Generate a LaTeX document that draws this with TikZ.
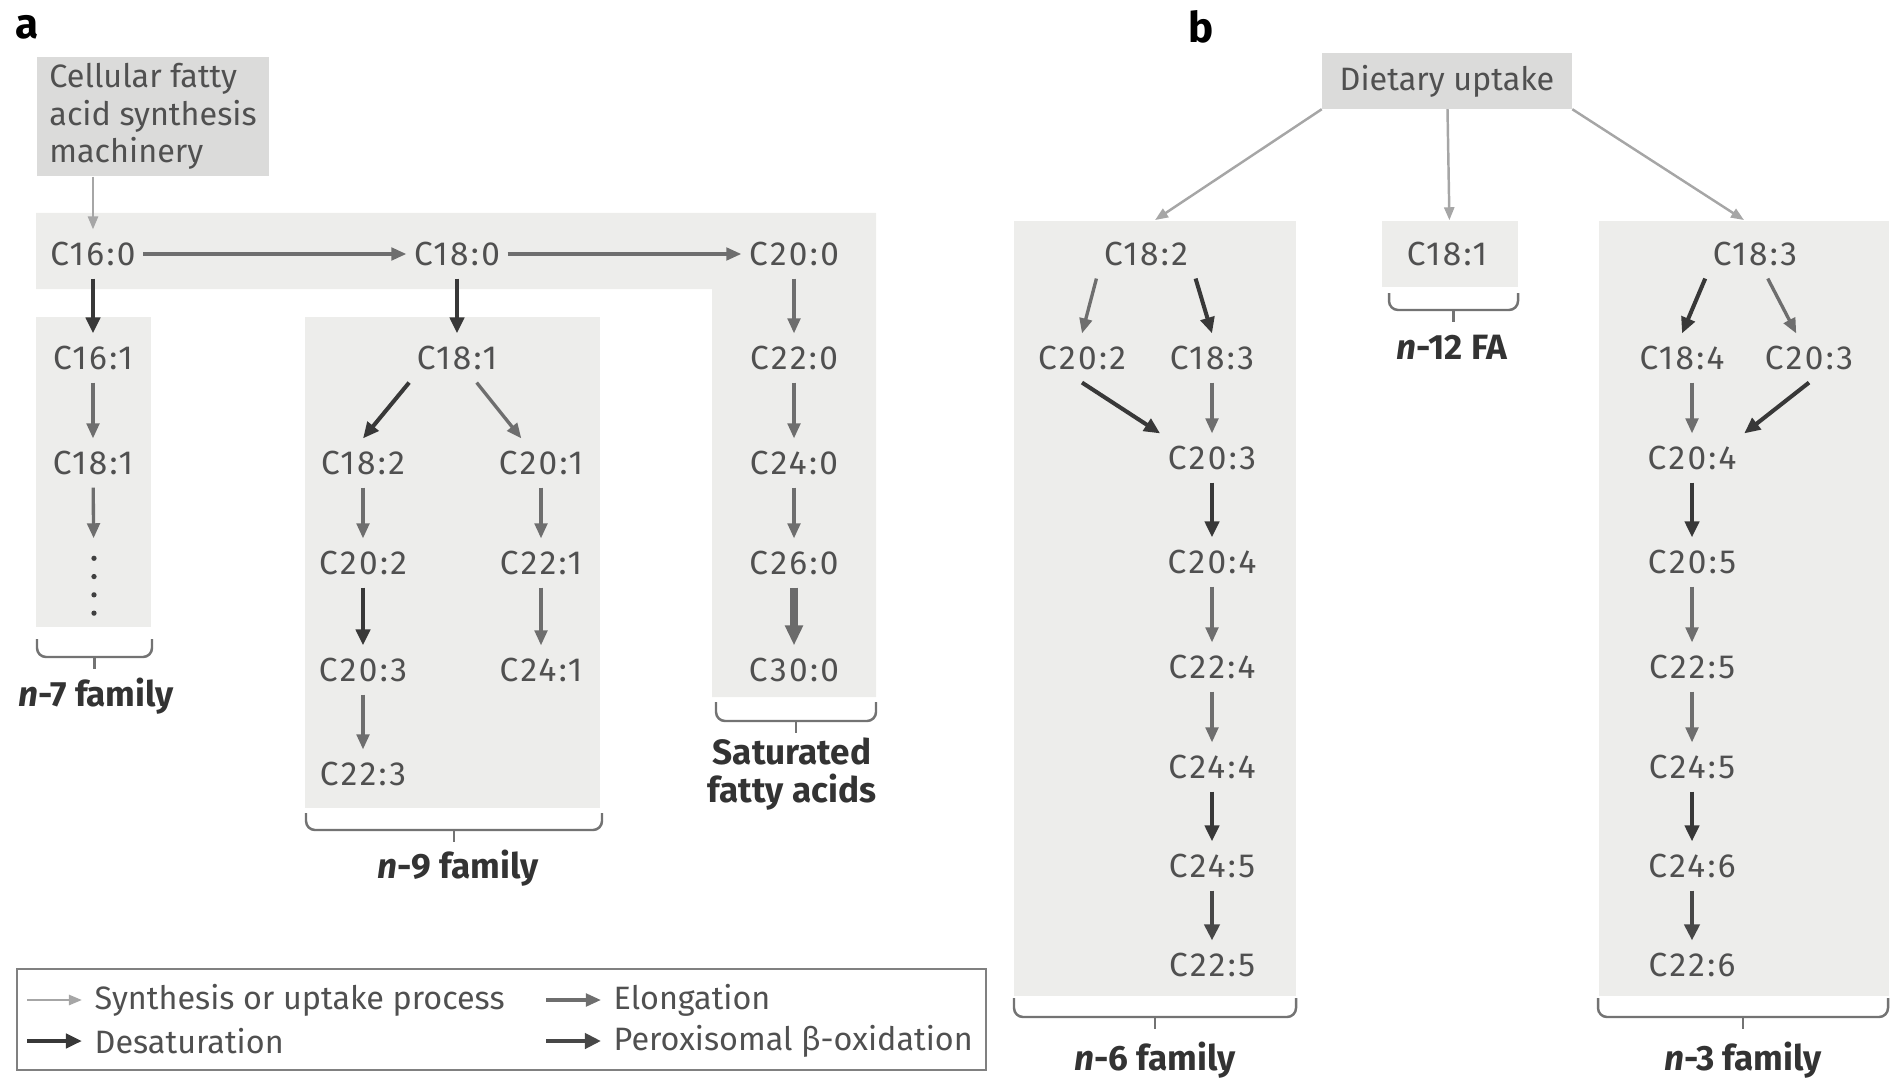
\documentclass[tikz,border=0pt]{standalone}
\usepackage{fontspec}
\setmainfont{Fira Sans}
\newfontfamily\compfont[LetterSpace=7]{Fira Sans}
\usetikzlibrary{arrows.meta,positioning,calc}
\definecolor{panelgray}{HTML}{EDEDEB}
\definecolor{headgray}{HTML}{DBDBDA}
\definecolor{fatext}{HTML}{505050}
\definecolor{famtext}{HTML}{333333}
\newcommand{\familybrace}[4]{%
  \draw[bracestyle,rounded corners=0.09cm] (#1,#3) |- ({(#1+#2)/2},#4) -| (#2,#3);
  \draw[bracestyle] ({(#1+#2)/2},#4) -- ++(0,12);}
\tikzset{
  fanode/.style={text=fatext,font=\compfont\fontsize{9.5}{11}\selectfont,inner xsep=2pt,inner ysep=3.4pt},
  headbox/.style={fill=headgray,text=fatext,font=\fontsize{9.2}{10.6}\selectfont,inner sep=0pt},
  panelbox/.style={fill=panelgray,inner sep=0pt},
  familylabel/.style={text=famtext,font=\fontsize{10}{10.8}\selectfont\bfseries,align=center,inner sep=1pt},
  panelletter/.style={font=\fontsize{12}{14}\selectfont\bfseries,inner sep=0pt},
  keytext/.style={text=fatext,font=\fontsize{9.2}{11}\selectfont,anchor=west,inner sep=0pt},
  uptakearrow/.style={-{Triangle[length=1.3mm,width=1.0mm]},draw=black!35,line width=0.7pt},
  elongarrow/.style={-{Triangle[length=1.5mm,width=1.25mm]},draw=black!57,line width=0.95pt},
  desatarrow/.style={-{Triangle[length=1.6mm,width=1.4mm]},draw=black!78,line width=1.15pt},
  peroxarrow/.style={-{Triangle[length=1.6mm,width=1.5mm]},draw=black!72,line width=1.3pt},
  thickarrow/.style={-{Triangle[length=2mm,width=1.7mm]},draw=black!58,line width=2.2pt},
  bracestyle/.style={draw=black!55,line width=0.7pt},
  dotline/.style={draw=black!75,line width=1.5pt,line cap=round,dash pattern=on 0pt off 5.2pt}
}
\begin{document}
\begin{tikzpicture}[x=0.01cm,y=-0.01cm]
  \useasboundingbox (0,0) rectangle (1891,1079);
  % panel a
  \fill[panelgray] (36,213) -| (876,697) -| (712,289) -| cycle;
  \fill[panelgray] (36,317) rectangle (151,627);
  \fill[panelgray] (305,317) rectangle (600,808);
  \node[panelletter] (lettera) at (27,27) {a};
  \node[headbox,align=left,minimum width=2.32cm,minimum height=1.19cm] (cellular) at (153,116.5)
    {Cellular fatty\\acid synthesis\\machinery};
  \node[fanode] (c160) at (93,254) {C16:0};
  \node[fanode] (c180) at (457,254) {C18:0};
  \node[fanode] (c200) at (794,254) {C20:0};
  \node[fanode] (c161) at (93,358) {C16:1};
  \node[fanode] (c181n7) at (93,463) {C18:1};
  \node[minimum height=0.56cm,minimum width=2pt,inner sep=0pt] (n7more) at (94,587) {};
  \draw[dotline] (n7more.north) -- (n7more.south);
  \node[fanode] (c181) at (457,358) {C18:1};
  \node[fanode] (c182) at (363,463) {C18:2};
  \node[fanode] (c201) at (541,463) {C20:1};
  \node[fanode] (c202) at (363,563) {C20:2};
  \node[fanode] (c221) at (541,563) {C22:1};
  \node[fanode] (c203) at (363,670) {C20:3};
  \node[fanode] (c241) at (541,670) {C24:1};
  \node[fanode] (c223) at (363,774) {C22:3};
  \foreach \name/\lbl/\y in {c220/C22:0/358,c240/C24:0/463,c260/C26:0/563,c300/C30:0/670}
    \node[fanode] (\name) at (794,\y) {\lbl};
  \draw[uptakearrow] (cellular.south -| c160) -- (c160);
  \foreach \a/\b in {c160/c180,c180/c200,c161/c181n7,c181/c201,c182/c202,c203/c223,
    c201/c221,c221/c241,c200/c220,c220/c240,c240/c260}
    \draw[elongarrow] (\a) -- (\b);
  \draw[elongarrow,shorten >=0.2cm] (c181n7) -- (n7more);
  \foreach \a/\b in {c160/c161,c180/c181,c202/c203}
    \draw[desatarrow] (\a) -- (\b);
  \draw[desatarrow] (c181.south west) -- (c182.north);
  \draw[thickarrow] (c260) -- (c300);
  \familybrace{37}{152}{639}{657}
  \node[familylabel] (n7lbl) at (96,696) {\textit{n}-7 family};
  \familybrace{306}{602}{813}{830}
  \node[familylabel] (n9lbl) at (458,868) {\textit{n}-9 family};
  \familybrace{716}{876}{702}{721}
  \node[familylabel] (satlbl) at (792,774) {Saturated\\fatty acids};

  % legend
  \draw[draw=black!50,line width=0.8pt] (17,969) rectangle (986,1070);
  \coordinate (keyup) at (27,1000);
  \node[keytext] (keyuptxt) at (94,1000) {Synthesis or uptake process};
  \coordinate (keyel) at (546,1000);
  \node[keytext] (keyeltxt) at (613,1000) {Elongation};
  \coordinate (keyde) at (27,1041);
  \node[keytext] (keydetxt) at (94,1041) {Desaturation};
  \coordinate (keypx) at (546,1041);
  \node[keytext] (keypxtxt) at (613,1041) {Peroxisomal β-oxidation};
  \draw[uptakearrow] (keyup) -- ([xshift=-0.12cm]keyuptxt.west);
  \draw[elongarrow] (keyel) -- ([xshift=-0.12cm]keyeltxt.west);
  \draw[desatarrow] (keyde) -- ([xshift=-0.12cm]keydetxt.west);
  \draw[peroxarrow] (keypx) -- ([xshift=-0.12cm]keypxtxt.west);

  % panel b
  \node[panelbox,minimum width=2.82cm,minimum height=7.75cm] (n6box) at (1155,608.5) {};
  \node[panelbox,minimum width=1.36cm,minimum height=0.66cm] (n12box) at (1450,254) {};
  \node[panelbox,minimum width=2.90cm,minimum height=7.75cm] (n3box) at (1744,608.5) {};
  \node[panelletter] (letterb) at (1201,27) {b};
  \node[headbox,minimum width=2.49cm,minimum height=0.55cm] (diet) at (1447,81) {Dietary uptake};
  \draw[uptakearrow] (diet.south west) -- (n6box.north);
  \draw[uptakearrow] (diet) -- (n12box);
  \draw[uptakearrow] (diet.south east) -- (n3box.north);
  % n-6
  \node[fanode] (b182) at (1146,254) {C18:2};
  \node[fanode] (b202) at (1082,358) {C20:2};
  \node[fanode] (b183) at (1212,358) {C18:3};
  \foreach \name/\lbl/\y in {b203/C20:3/458,b204/C20:4/562,b224/C22:4/667,b244/C24:4/767,
    b245/C24:5/866,b225/C22:5/965}
    \node[fanode] (\name) at (1212,\y) {\lbl};
  \draw[elongarrow] (b182.south west) -- (b202.north);
  \draw[desatarrow] (b182.south east) -- (b183.north);
  \draw[desatarrow] (b202.south) -- (b203.north west);
  \foreach \a/\b in {b183/b203,b204/b224,b224/b244}
    \draw[elongarrow] (\a) -- (\b);
  \foreach \a/\b in {b203/b204,b244/b245}
    \draw[desatarrow] (\a) -- (\b);
  \draw[peroxarrow] (b245) -- (b225);
  % n-12
  \node[fanode] (m181) at (1447,254) {C18:1};
  % n-3
  \node[fanode] (t183) at (1755,254) {C18:3};
  \node[fanode] (t184) at (1682,358) {C18:4};
  \node[fanode] (t203) at (1809,358) {C20:3};
  \foreach \name/\lbl/\y in {t204/C20:4/458,t205/C20:5/562,t225/C22:5/667,t245/C24:5/767,
    t246/C24:6/866,t226/C22:6/965}
    \node[fanode] (\name) at (1692,\y) {\lbl};
  \draw[desatarrow] (t183.south west) -- (t184.north);
  \draw[elongarrow] (t183) -- (t203);
  \draw[desatarrow] (t203.south) -- (t204.north east);
  \draw[elongarrow] (t184.south -| t204) -- (t204);
  \foreach \a/\b in {t205/t225,t225/t245}
    \draw[elongarrow] (\a) -- (\b);
  \foreach \a/\b in {t204/t205,t245/t246}
    \draw[desatarrow] (\a) -- (\b);
  \draw[peroxarrow] (t246) -- (t226);
  \familybrace{1389}{1518}{293}{310}
  \node[familylabel] (n12lbl) at (1452,347) {\textit{n}-12 FA};
  \familybrace{1014}{1296}{998}{1017}
  \node[familylabel] (n6lbl) at (1155,1060) {\textit{n}-6 family};
  \familybrace{1598}{1888}{998}{1017}
  \node[familylabel] (n3lbl) at (1743,1060) {\textit{n}-3 family};
\end{tikzpicture}
\end{document}
